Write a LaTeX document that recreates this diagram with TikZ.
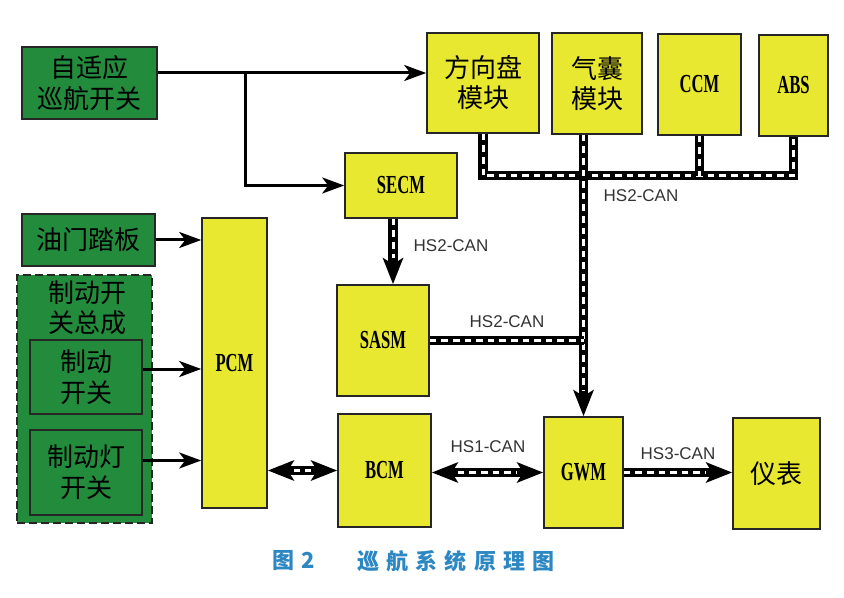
\documentclass[tikz,border=0pt]{standalone}
\usepackage{fontspec}
\setmainfont{Liberation Sans}
\newfontfamily\cjk{Noto Sans CJK SC}
\newfontfamily\modfont[FakeStretch=0.64]{Liberation Serif}
\usetikzlibrary{arrows.meta}
\definecolor{boxgreen}{RGB}{34,140,60}
\definecolor{boxyellow}{RGB}{232,232,48}
\definecolor{capblue}{RGB}{45,135,195}

\begin{document}
\begin{tikzpicture}[x=0.5pt,y=-0.5pt,
    box/.style={draw=black!85,line width=0.8pt,inner sep=0pt,align=center},
    sw/.style={box,fill=boxgreen,font=\cjk\fontsize{13}{15.5}\selectfont},
    md/.style={box,fill=boxyellow,font=\cjk\fontsize{13}{15}\selectfont},
    mdl/.style={box,fill=boxyellow,font=\modfont\bfseries\fontsize{13}{15}\selectfont},
    arr/.style={line width=1.5pt,-{Stealth[length=11pt,width=8pt,inset=3pt]}},
    bus/.style 2 args={line width=4.6pt,
      postaction={draw=white,line width=1.5pt,dash pattern=on 3.3pt off 2.5pt,
      arrows=-,shorten <=#1,shorten >=#2}},
    cantip/.tip={Stealth[length=13pt,width=10pt,inset=3pt]},
    lbl/.style={font=\fontsize{8.5}{10}\selectfont,text=black!80},
    captxt/.style={font=\cjk\bfseries\fontsize{11}{13}\selectfont\addfontfeature{LetterSpace=32},text=capblue}]
 \useasboundingbox (0,0) rectangle (844,598);

 % switches and inputs
 \node[sw,minimum width=67.5pt,minimum height=36pt] (ACC) at (89.5,83) {自适应\\巡航开关};
 \node[sw,minimum width=66.5pt,minimum height=26pt] (PED) at (88.5,240) {油门踏板};
 \node[box,fill=boxgreen,dashed,dash pattern=on 4pt off 2pt,line width=1pt,
   minimum width=67.5pt,minimum height=124pt] (GRP) at (84.5,399) {};
 \node[align=center,font=\cjk\fontsize{13}{15}\selectfont] (GRPL) at (87,308) {制动开\\关总成};
 \node[sw,minimum width=56pt,minimum height=37pt] (BRK) at (86,377) {制动\\开关};
 \node[sw,minimum width=56pt,minimum height=42.5pt] (LMP) at (86,472.5) {制动灯\\开关};

 % modules
 \node[md,minimum width=56pt,minimum height=50pt] (STR) at (483,83) {方向盘\\模块};
 \node[md,minimum width=45pt,minimum height=50.5pt] (AIR) at (597,83.5) {气囊\\模块};
 \node[mdl,minimum width=41.5pt,minimum height=50.5pt] (CCM) at (699.5,84.5) {CCM};
 \node[mdl,minimum width=34.5pt,minimum height=50.5pt] (ABS) at (793.5,85.5) {ABS};
 \node[mdl,minimum width=56pt,minimum height=32.5pt] (SECM) at (401,185.5) {SECM};
 \node[mdl,minimum width=32.5pt,minimum height=145pt] (PCM) at (234.5,363) {PCM};
 \node[mdl,minimum width=46pt,minimum height=55.5pt] (SASM) at (383,340.5) {SASM};
 \node[mdl,minimum width=46.5pt,minimum height=56.5pt] (BCM) at (384.5,470.5) {BCM};
 \node[mdl,minimum width=39.5pt,minimum height=55.5pt] (GWM) at (583.5,472.5) {GWM};
 \node[md,minimum width=43.5pt,minimum height=55.5pt] (IPC) at (776.5,473.5) {仪表};

 % hard wires
 \coordinate (ACCo) at ([yshift=5pt]ACC.east);
 \coordinate (BR) at (245,73);
 \coordinate (BRKo) at ([yshift=4pt]BRK.east);
 \coordinate (LMPo) at ([yshift=6pt]LMP.east);
 \draw[arr] (ACCo) -- (ACCo -| STR.west);
 \draw[arr] (BR) |- (SECM.west);
 \draw[arr] (PED.east) -- (PED.east -| PCM.west);
 \draw[arr] (BRKo) -- (BRKo -| PCM.west);
 \draw[arr] (LMPo) -- (LMPo -| PCM.west);

 % CAN buses
 \draw[bus={0pt}{0pt}] (STR.south) -- ++(0,42) -| (ABS.south);
 \draw[bus={0pt}{0pt}] (CCM.south) -- ++(0,40);
 \draw[bus={0pt}{13pt},-cantip] (AIR.south -| GWM.north) -- (GWM.north);
 \draw[bus={0pt}{13pt},-cantip] ([xshift=-4pt]SECM.south) -- ([xshift=-4pt]SECM.south |- SASM.north);
 \draw[bus={0pt}{0pt}] (SASM.east) -- (SASM.east -| GWM.north);
 \draw[bus={13pt}{13pt},cantip-cantip] (BCM.west -| PCM.east) -- (BCM.west);
 \draw[bus={13pt}{13pt},cantip-cantip] (GWM.west -| BCM.east) -- (GWM.west);
 \draw[bus={0pt}{13pt},-cantip] (GWM.east) -- (GWM.east -| IPC.west);

 \node[lbl] (LTOP) at (641,196) {HS2-CAN};
 \node[lbl] (LSEC) at (451,246) {HS2-CAN};
 \node[lbl] (LSAS) at (507,322) {HS2-CAN};
 \node[lbl] (LHS1) at (488,447) {HS1-CAN};
 \node[lbl] (LHS3) at (678,454) {HS3-CAN};

 % caption
 \node[captxt] (CAPN) at (294,561) {图2};
 \node[captxt] (CAPT) at (456,561) {巡航系统原理图};
\end{tikzpicture}
\end{document}
